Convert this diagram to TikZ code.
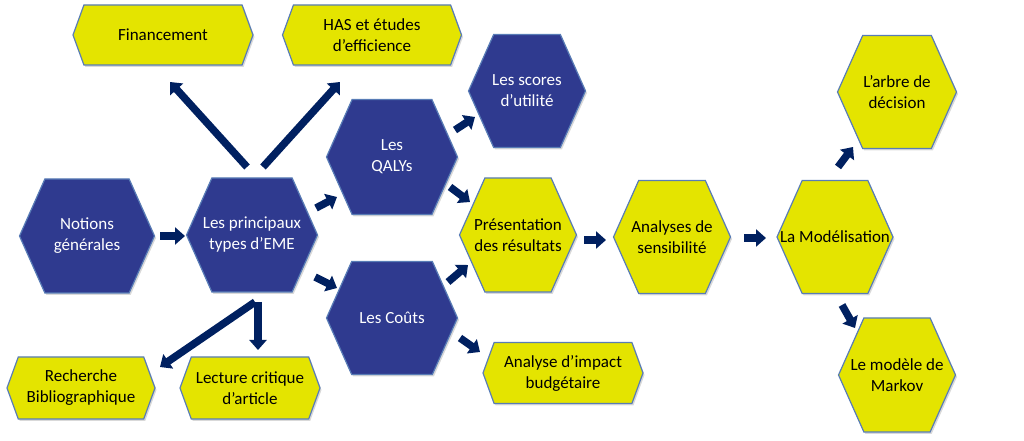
\documentclass[tikz,border=0pt]{standalone}
\usepackage{fontspec}
\setmainfont{Carlito}
\usetikzlibrary{shapes.symbols,arrows.meta,shadows}
\definecolor{hexnavy}{RGB}{47,58,143}
\definecolor{hexyellow}{RGB}{228,228,0}
\definecolor{hexedge}{RGB}{88,124,182}
\definecolor{arrownavy}{RGB}{0,32,96}
\tikzset{
  hexbox/.style={signal, signal to=east and west, draw=hexedge, line width=1.2pt,
    align=center, inner sep=0pt, font=\fontsize{17}{21}\selectfont,
    drop shadow={shadow xshift=1.5pt, shadow yshift=-2pt, opacity=0.3}},
  tallhex/.style={signal pointer angle=132, inner xsep=-30pt},
  flathex/.style={signal pointer angle=140},
  navyhex/.style={hexbox, tallhex, fill=hexnavy, text=white},
  yellowhex/.style={hexbox, flathex, fill=hexyellow, text=black},
  bigarrow/.style={draw=arrownavy, line width=7.5pt, -{Triangle[length=10pt,width=17pt]}}
}
\begin{document}
\begin{tikzpicture}[x=1pt,y=1pt]
\useasboundingbox (0,0) rectangle (1024,441);
% Drawing hexagons
% Row 1: top boxes
\node[yellowhex, minimum width=180, minimum height=60] (fin) at (163,406) {Financement};
\node[yellowhex, minimum width=179, minimum height=60] (has) at (372,406) {HAS et études\\d’efficience};
% Row 2: left branch
\node[navyhex, minimum width=135, minimum height=114] (notions) at (87,205) {Notions\\générales};
\node[navyhex, minimum width=131, minimum height=114] (princ) at (252,206) {Les principaux\\types d’EME};
\node[navyhex, minimum width=131, minimum height=115] (qalys) at (392,284) {Les\\QALYs};
\node[navyhex, minimum width=131, minimum height=113] (couts) at (392,123) {Les Coûts};
\node[navyhex, minimum width=117, minimum height=113] (scores) at (527,350) {Les scores\\d’utilité};
% Row 3: results and models
\node[yellowhex, tallhex, minimum width=117, minimum height=114] (pres) at (518,206) {Présentation\\des résultats};
\node[yellowhex, tallhex, minimum width=117, minimum height=113] (sens) at (672,204) {Analyses de\\sensibilité};
\node[yellowhex, tallhex, minimum width=116, minimum height=113] (model) at (835,204) {La Modélisation};
\node[yellowhex, tallhex, minimum width=119, minimum height=113] (arbre) at (897,349) {L’arbre de\\décision};
\node[yellowhex, tallhex, minimum width=117, minimum height=114] (markov) at (897,66) {Le modèle de\\Markov};
% Row 4: bottom boxes
\node[yellowhex, minimum width=160, minimum height=61] (impact) at (563,68) {Analyse d’impact\\budgétaire};
\node[yellowhex, minimum width=148, minimum height=62] (rech) at (81,53) {Recherche\\Bibliographique};
\node[yellowhex, minimum width=140, minimum height=62] (lect) at (250,53) {Lecture critique\\d’article};
% Done with hexagons; drawing arrows
\draw[bigarrow] ([shift={(73,0)}]notions.center) -- ([shift={(-67,-1)}]princ.center);
\draw[bigarrow] ([shift={(-5,68)}]princ.center) -- ([shift={(7,-47)}]fin.center);
\draw[bigarrow] ([shift={(11,68)}]princ.center) -- ([shift={(-32,-47)}]has.center);
\draw[bigarrow] ([shift={(64,27)}]princ.center) -- ([shift={(-55,-40)}]qalys.center);
\draw[bigarrow] ([shift={(63,-42)}]princ.center) -- ([shift={(-55,30)}]couts.center);
\draw[bigarrow] ([shift={(3,-67)}]princ.center) -- ([shift={(79,21)}]rech.center);
\draw[bigarrow] ([shift={(6,-67)}]princ.center) -- ([shift={(8,38)}]lect.center);
\draw[bigarrow] ([shift={(63,27)}]qalys.center) -- ([shift={(-52,-26)}]scores.center);
\draw[bigarrow] ([shift={(58,-30)}]qalys.center) -- ([shift={(-48,33)}]pres.center);
\draw[bigarrow] ([shift={(56,36)}]couts.center) -- ([shift={(-50,-30)}]pres.center);
\draw[bigarrow] ([shift={(68,-20)}]couts.center) -- ([shift={(-83,21)}]impact.center);
\draw[bigarrow] ([shift={(66,-5)}]pres.center) -- ([shift={(-66,-3)}]sens.center);
\draw[bigarrow] ([shift={(72,-1)}]sens.center) -- ([shift={(-69,-1)}]model.center);
\draw[bigarrow] ([shift={(3,70)}]model.center) -- ([shift={(-44,-55)}]arbre.center);
\draw[bigarrow] ([shift={(7,-68)}]model.center) -- ([shift={(-42,47)}]markov.center);
% Done with arrows
\end{tikzpicture}
\end{document}
